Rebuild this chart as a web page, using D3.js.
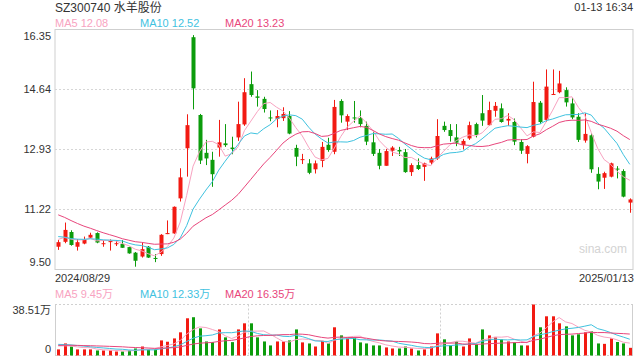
<!DOCTYPE html>
<html>
<head>
<meta charset="utf-8">
<script src="https://cdn.jsdelivr.net/npm/d3@7"></script>
<style>
  body { margin: 0; background: #fff; }
  svg { display: block; }
  text { font-family: "Liberation Sans", Arial, "Noto Sans CJK SC", sans-serif; }
</style>
</head>
<body>
<script>
// daily OHLC, 2024/08/29 .. 2025/01/13
const opens = [10.15,10.29,10.57,10.15,10.24,10.41,10.54,10.24,10.30,10.24,
  10.23,10.14,9.98,9.87,10.15,9.83,9.94,10.51,10.53,11.53,
  12.96,16.13,13.91,12.83,12.63,12.98,13.10,12.98,13.27,13.64,
  14.79,14.44,14.37,13.84,13.80,13.82,13.88,12.97,12.63,12.53,
  12.36,12.60,13.06,12.86,14.31,13.72,13.84,13.82,13.60,13.13,
  12.83,12.46,12.89,12.91,12.85,12.28,12.48,12.43,12.55,12.67,
  13.60,13.48,13.27,13.05,13.24,13.65,13.96,13.62,14.03,14.10,
  13.75,13.71,13.14,12.80,13.29,14.26,13.77,14.50,14.56,14.62,
  14.24,13.86,13.18,13.33,12.23,12.12,12.15,12.38,12.31,11.41];
const closes = [10.28,10.63,10.20,10.28,10.35,10.49,10.27,10.25,10.31,10.25,
  10.12,9.96,9.75,10.08,9.84,9.82,10.49,10.54,11.29,12.13,
  13.62,14.67,12.61,12.67,12.22,13.13,13.05,12.94,13.65,14.56,
  14.48,14.40,14.08,13.82,13.88,13.94,13.38,12.72,12.65,12.26,
  12.53,13.00,12.91,14.14,13.90,13.88,13.83,13.65,13.15,12.80,
  12.46,12.88,12.98,12.87,12.28,12.48,12.37,12.53,12.67,13.31,
  13.48,13.31,13.12,13.17,13.62,13.34,13.75,14.05,14.17,13.71,
  13.80,13.15,12.89,13.02,14.28,13.71,14.72,14.51,14.81,14.27,
  13.84,13.20,13.37,12.36,12.01,12.25,12.53,12.37,11.58,11.50];
const highs = [10.34,10.84,10.62,10.37,10.44,10.55,10.56,10.34,10.36,10.34,
  10.34,10.15,10.00,10.27,10.17,9.94,10.51,10.90,11.30,12.39,
  13.93,16.19,13.94,13.20,12.86,13.77,13.65,13.29,14.29,14.96,
  15.15,14.62,14.43,14.04,14.05,14.13,14.02,13.06,12.80,12.65,
  12.61,13.14,13.26,14.34,14.36,13.93,14.31,14.04,13.72,13.43,
  12.94,12.94,13.02,13.00,12.94,12.53,12.67,12.55,12.72,13.79,
  13.72,13.65,13.65,13.22,13.72,13.69,14.48,14.29,14.28,14.24,
  13.96,13.81,13.22,13.05,14.86,14.31,15.21,15.21,15.17,14.70,
  14.39,13.96,13.96,13.39,12.42,12.29,12.55,12.45,12.36,11.53];
const lows = [10.06,10.25,10.18,10.04,10.22,10.39,10.25,10.15,10.04,10.17,
  10.12,9.95,9.58,9.84,9.83,9.71,9.89,10.51,10.52,11.44,
  12.15,14.07,12.51,12.48,11.86,12.72,13.00,12.79,13.17,13.60,
  14.43,14.15,13.98,13.73,13.56,13.74,13.36,12.45,12.51,12.22,
  12.24,12.42,12.86,12.79,13.69,13.48,13.69,13.56,13.05,12.74,
  12.36,12.46,12.74,12.74,12.26,12.17,12.34,12.03,12.48,12.63,
  13.43,13.15,13.02,12.93,13.20,13.27,13.60,13.60,13.86,13.69,
  13.60,13.05,12.80,12.53,13.27,13.65,13.71,14.48,14.53,14.15,
  13.79,13.14,13.12,12.26,11.79,11.80,12.13,12.10,11.56,11.12];
// volume, 万手
const volumes = [4.6,9.1,6.8,4.6,4.6,4.6,3.8,3.8,3.8,3.0,
  3.0,3.8,5.3,6.8,4.6,4.6,11.4,10.4,12.9,17.5,
  28.1,28.9,20.5,10.6,10.1,19.7,13.7,10.1,19.7,24.3,
  24.3,13.7,10.6,7.6,10.6,10.6,11.4,19.7,9.9,9.1,
  6.8,11.1,9.1,21.3,15.2,12.9,13.7,9.9,9.1,7.6,
  7.6,6.1,5.3,5.3,6.8,5.3,3.8,4.6,6.8,16.7,
  12.2,7.6,10.6,6.8,12.9,8.4,19.7,15.2,13.7,12.2,
  10.6,9.9,7.6,7.6,38.51,21.3,29.6,29.6,24.3,22.0,
  15.2,16.0,17.5,18.2,9.1,8.8,12.9,10.2,9.1,5.8];
// days before the window, only used to warm up the moving averages
const prevCloses = [12.10,12.00,11.95,11.85,11.70,11.60,11.50,11.40,11.35,11.35,
  10.80,10.60,10.45,10.40,10.35,10.35,10.45,10.40,10.32];
const prevVolumes = [6.5,7.2,6.0,7.8,6.4,7.0,6.6,7.4,6.3,6.8,
  10.5,9.2,9.8,8.9,9.6,8.6,7.4,8.1,7.3];

const dateLabels = ["2024/08/29", "2025/01/13"];
const priceTicks = [16.35, 14.64, 12.93, 11.22, 9.50];
const volTicks = [38.51, 0];
const maPeriods = [5, 10, 20];
const maColors = ["#f8a3c1", "#3fc2df", "#e8467c"];
const priceLegend = ["12.08", "12.52", "13.23"];
const volLegend = ["9.45万", "12.33万", "16.35万"];

const W = 640, H = 360;
const L = 55, R = 633, T = 29.5, B = 269.5, VT = 304.5, VB = 355.5;
const UP = "#f21a12", DOWN = "#0c9c0c", GRID = "#cfcfcf";

const svg = d3.select("body").append("svg").attr("width", W).attr("height", H);
svg.append("rect").attr("width", W).attr("height", H).attr("fill", "#fff");

const n = closes.length;
const x = d3.scaleBand().domain(d3.range(n)).range([L, R]).paddingInner(0.36).paddingOuter(0.18);
const cx = i => x(i) + x.bandwidth() / 2;
const y = d3.scaleLinear().domain([9.50, 16.35]).range([B, T]);
const yv = d3.scaleLinear().domain([0, 38.51]).range([VB, VT]);

function movingAvg(prev, vals, p) {
  const all = prev.concat(vals), off = prev.length;
  return vals.map((v, i) => d3.mean(all.slice(off + i - p + 1, off + i + 1)));
}

// header texts
svg.append("text").attr("x", L).attr("y", 12).attr("font-size", 12).attr("fill", "#333")
  .text("SZ300740 水羊股份");
svg.append("text").attr("x", R).attr("y", 11).attr("text-anchor", "end").attr("font-size", 11).attr("fill", "#333")
  .text("01-13 16:34");

const legendX = [L, 140, 225];
maPeriods.forEach((p, k) => {
  svg.append("text").attr("x", legendX[k]).attr("y", 27).attr("font-size", 11).attr("fill", maColors[k])
    .text("MA" + p + " " + priceLegend[k]);
  svg.append("text").attr("x", legendX[k]).attr("y", 298).attr("font-size", 11).attr("fill", maColors[k])
    .text("MA" + p + " " + volLegend[k]);
});

// price panel frame + grid
svg.append("rect").attr("x", L).attr("y", T).attr("width", R - L).attr("height", B - T)
  .attr("fill", "none").attr("stroke", GRID);
svg.append("g").selectAll("line").data(priceTicks.slice(1, -1)).join("line")
  .attr("x1", L).attr("x2", R)
  .attr("y1", d => Math.round(y(d)) + 0.5).attr("y2", d => Math.round(y(d)) + 0.5)
  .attr("stroke", "#d6d6d6").attr("stroke-dasharray", "2,2");

const yAxis = svg.append("g").attr("transform", `translate(${L},0)`)
  .call(d3.axisLeft(y).tickValues(priceTicks).tickFormat(d3.format(".2f")).tickSize(0).tickPadding(4));
yAxis.select(".domain").remove();
yAxis.selectAll("text").attr("font-size", 11).attr("fill", "#333").attr("font-family", null)
  .attr("dy", (d, i) => i === 0 ? "0.9em" : i === priceTicks.length - 1 ? "-0.35em" : "0.32em");

// watermark
svg.append("text").attr("x", 603).attr("y", 253).attr("text-anchor", "middle").attr("font-size", 12)
  .attr("fill", "#d3d3d3").text("sina.com");

// candles
const candles = svg.append("g").selectAll("g").data(d3.range(n)).join("g")
  .attr("fill", i => closes[i] >= opens[i] ? UP : DOWN)
  .attr("stroke", i => closes[i] >= opens[i] ? UP : DOWN);
candles.append("line")
  .attr("x1", i => Math.round(cx(i)) + 0.5).attr("x2", i => Math.round(cx(i)) + 0.5)
  .attr("y1", i => y(highs[i])).attr("y2", i => y(lows[i]));
candles.append("rect")
  .attr("stroke", "none")
  .attr("x", i => Math.round(cx(i)) - 1.5).attr("width", 4)
  .attr("y", i => y(Math.max(opens[i], closes[i])))
  .attr("height", i => Math.max(1, Math.abs(y(opens[i]) - y(closes[i]))));

// price MAs
maPeriods.forEach((p, k) => {
  const m = movingAvg(prevCloses, closes, p);
  svg.append("path").datum(m)
    .attr("d", d3.line().x((d, i) => cx(i)).y(d => y(d)))
    .attr("fill", "none").attr("stroke", maColors[k]).attr("stroke-width", 1);
});

// x labels
svg.append("text").attr("x", L).attr("y", 282).attr("font-size", 11).attr("fill", "#333").text(dateLabels[0]);
svg.append("text").attr("x", R + 1).attr("y", 282).attr("text-anchor", "end").attr("font-size", 11)
  .attr("fill", "#333").text(dateLabels[1]);

// volume panel frame
svg.append("line").attr("x1", L).attr("x2", R).attr("y1", VT).attr("y2", VT)
  .attr("stroke", "#d0d0d0").attr("stroke-dasharray", "2,2");
svg.append("line").attr("x1", L).attr("x2", R).attr("y1", VB).attr("y2", VB)
  .attr("stroke", "#d0d0d0").attr("stroke-dasharray", "2,2");
svg.append("line").attr("x1", L + 0.5).attr("x2", L + 0.5).attr("y1", VT).attr("y2", VB).attr("stroke", GRID);
svg.append("line").attr("x1", R - 0.5).attr("x2", R - 0.5).attr("y1", VT).attr("y2", VB).attr("stroke", GRID);
[1 / 3, 2 / 3].forEach(f => {
  const xx = Math.round(L + (R - L) * f) + 0.5;
  svg.append("line").attr("x1", xx).attr("x2", xx).attr("y1", VT).attr("y2", VB)
    .attr("stroke", "#d0d0d0").attr("stroke-dasharray", "2,2");
});

const vAxis = svg.append("g").attr("transform", `translate(${L},0)`)
  .call(d3.axisLeft(yv).tickValues(volTicks).tickFormat(d => d === 0 ? "0" : d.toFixed(2) + "万")
    .tickSize(0).tickPadding(4));
vAxis.select(".domain").remove();
vAxis.selectAll("text").attr("font-size", 11).attr("fill", "#333").attr("font-family", null)
  .attr("dy", d => d === 0 ? "-0.25em" : "0.85em");

svg.append("g").selectAll("rect").data(d3.range(n)).join("rect")
  .attr("x", i => Math.round(cx(i)) - 1).attr("width", 3)
  .attr("y", i => yv(volumes[i]))
  .attr("height", i => VB - yv(volumes[i]))
  .attr("fill", i => closes[i] >= opens[i] ? UP : DOWN);

maPeriods.forEach((p, k) => {
  const m = movingAvg(prevVolumes, volumes, p);
  svg.append("path").datum(m)
    .attr("d", d3.line().x((d, i) => cx(i)).y(d => yv(d)))
    .attr("fill", "none").attr("stroke", maColors[k]).attr("stroke-width", 1);
});
</script>
</body>
</html>
